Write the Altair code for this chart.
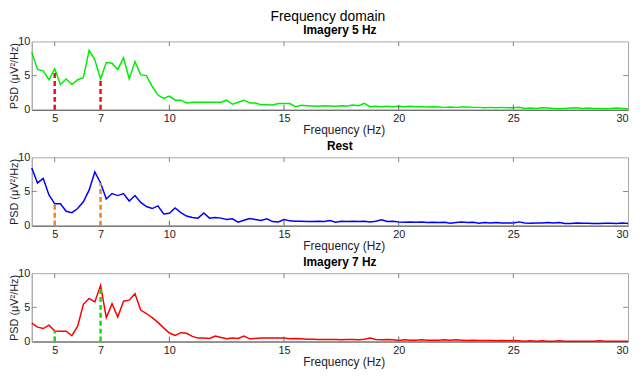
import altair as alt
import pandas as pd

# frequency grid (Hz), 0.25 Hz steps from 4 to 30
freqs = [4 + 0.25 * i for i in range(105)]

imagery5 = [
    8.4, 5.9, 5.7, 4.4, 6.0, 3.7, 4.5, 3.7, 4.4, 4.7,
    8.7, 7.3, 4.5, 6.9, 6.8, 5.9, 7.6, 4.5, 7.05, 5.1,
    5.0, 3.4, 2.15, 1.65, 2.0, 1.4, 1.4, 1.0, 1.1, 1.1,
    1.1, 1.1, 1.1, 1.1, 1.4, 0.8, 1.1, 1.4, 1.0, 1.0,
    0.75, 0.75, 0.7, 0.9, 0.9, 0.9, 0.45, 0.65, 0.6, 0.55,
    0.5, 0.6, 0.55, 0.5, 0.6, 0.55, 0.7, 0.6, 0.95, 0.45,
    0.5, 0.45, 0.5, 0.45, 0.5, 0.45, 0.5, 0.45, 0.45, 0.4,
    0.45, 0.4, 0.35, 0.4, 0.35, 0.4, 0.4, 0.35, 0.35, 0.3,
    0.35, 0.3, 0.35, 0.3, 0.3, 0.35, 0.2, 0.25, 0.2, 0.3,
    0.25, 0.2, 0.15, 0.2, 0.25, 0.3, 0.2, 0.25, 0.2, 0.2,
    0.15, 0.2, 0.25, 0.2, 0.15,
]

rest = [
    8.45, 6.25, 6.9, 4.5, 3.2, 3.2, 2.1, 1.9, 2.5, 3.5,
    5.2, 7.85, 6.25, 3.9, 4.7, 4.4, 4.7, 3.6, 4.4, 3.4,
    2.8, 2.5, 2.9, 1.7, 1.8, 2.6, 1.9, 1.4, 1.2, 1.1,
    1.85, 1.1, 1.2, 1.1, 0.9, 1.0, 0.5, 0.8, 1.05, 0.9,
    0.75, 1.0, 0.6, 0.55, 0.9, 0.7, 0.65, 0.65, 0.6, 0.6,
    0.65, 0.6, 0.75, 0.5, 0.65, 0.6, 0.65, 0.6, 0.65, 0.55,
    0.65, 0.85, 0.6, 0.65, 0.55, 0.5, 0.55, 0.5, 0.55, 0.45,
    0.5, 0.45, 0.5, 0.35, 0.45, 0.55, 0.45, 0.5, 0.35, 0.45,
    0.4, 0.45, 0.4, 0.4, 0.4, 0.55, 0.4, 0.35, 0.4, 0.4,
    0.45, 0.4, 0.45, 0.3, 0.3, 0.4, 0.35, 0.35, 0.3, 0.3,
    0.35, 0.35, 0.3, 0.4, 0.3,
]

imagery7 = [
    2.7, 2.1, 1.9, 2.4, 1.55, 1.5, 1.5, 0.85, 2.25, 5.45,
    6.3, 5.8, 8.2, 3.5, 5.55, 3.6, 5.9, 6.05, 7.0, 4.6,
    4.1, 3.5, 2.8, 2.0, 1.25, 0.9, 1.3, 1.2, 0.75, 0.5,
    0.5, 0.45, 0.8, 0.6, 0.4, 0.5, 0.45, 0.8, 0.4, 0.45,
    0.5, 0.5, 0.5, 0.5, 0.5, 0.4, 0.45, 0.4, 0.35, 0.35,
    0.3, 0.3, 0.3, 0.3, 0.25, 0.3, 0.3, 0.25, 0.35, 0.5,
    0.3, 0.25, 0.3, 0.25, 0.15, 0.25, 0.2, 0.2, 0.25, 0.2,
    0.2, 0.2, 0.25, 0.2, 0.25, 0.2, 0.15, 0.2, 0.15, 0.15,
    0.15, 0.1, 0.15, 0.1, 0.15, 0.1, 0.05, 0.1, 0.05, 0.1,
    0.05, 0.05, 0.1, 0.05, 0.05, 0.05, 0.05, 0.05, 0.05, 0.1,
    0.05, 0.05, 0.05, 0.05, 0.05,
]

marker_freqs = [5, 7]
imagery5_markers = [5.7, 4.4]
rest_markers = [3.05, 6.25]
imagery7_markers = [1.45, 7.75]

panel_titles = ["Imagery 5 Hz", "Rest", "Imagery 7 Hz"]
x_tick_labels = [5, 7, 10, 15, 20, 25, 30]
x_minor_ticks = [5, 10, 15, 20, 25]
y_tick_labels = [0, 5, 10]

W, H = 602, 69
FONT = "Liberation Sans"


def panel(title, values, markers, line_color, dash_color):
    xs = alt.Scale(domain=[4, 30], nice=False, zero=False)
    ys = alt.Scale(domain=[0, 10], nice=False, zero=False)
    x_axis = alt.Axis(
        values=x_tick_labels, ticks=False, grid=False, title="Frequency (Hz)",
        labelFlush=True, labelPadding=3, domainColor="#555555",
        titleX=W / 2 + 14, titlePadding=1, titleFontSize=12)
    y_axis = alt.Axis(
        values=y_tick_labels, ticks=False, grid=False, title="PSD (μV²/Hz)",
        labelPadding=2, titlePadding=-2, domainColor="#a8a8a8")

    def enc(ch):
        return ch.encode(
            x=alt.X("f:Q", scale=xs, axis=x_axis),
            y=alt.Y("psd:Q", scale=ys, axis=y_axis),
        )

    df = pd.DataFrame({"f": freqs, "psd": values})
    line = enc(alt.Chart(df).mark_line(color=line_color, strokeWidth=1.5))

    mdf = pd.DataFrame({"f": marker_freqs, "psd": markers, "zero": [0, 0]})
    dashes = alt.Chart(mdf).mark_rule(color=dash_color, strokeWidth=2.5, strokeDash=[5, 3]).encode(
        x=alt.X("f:Q", scale=xs, axis=x_axis),
        y=alt.Y("zero:Q", scale=ys, axis=y_axis),
        y2="psd:Q",
    )
    bt = pd.DataFrame({"f": x_minor_ticks, "psd": [0] * len(x_minor_ticks)})
    tt = pd.DataFrame({"f": x_minor_ticks, "psd": [10] * len(x_minor_ticks)})
    rt = pd.DataFrame({"f": [30], "psd": [5]})
    lt = pd.DataFrame({"f": [4], "psd": [5]})
    bottom_ticks = enc(alt.Chart(bt).mark_tick(orient="vertical", size=5, thickness=1, yOffset=-2.5,
                                               color="#666666", opacity=1))
    top_ticks = enc(alt.Chart(tt).mark_tick(orient="vertical", size=5, thickness=1, yOffset=2.5,
                                            color="#888888", opacity=1))
    right_ticks = enc(alt.Chart(rt).mark_tick(orient="horizontal", size=5, thickness=1, xOffset=-2.5,
                                              color="#888888", opacity=1))
    left_ticks = enc(alt.Chart(lt).mark_tick(orient="horizontal", size=5, thickness=1, xOffset=2.5,
                                             color="#888888", opacity=1))
    return alt.layer(line, bottom_ticks, top_ticks, right_ticks, left_ticks, dashes).properties(
        width=W, height=H,
        title=alt.TitleParams(title, fontSize=12, fontWeight="bold", anchor="middle",
                              offset=-2, dx=10, color="#000000", font=FONT),
    )


p1 = panel(panel_titles[0], imagery5, imagery5_markers, "#00ee00", "#ee1111")
p2 = panel(panel_titles[1], rest, rest_markers, "#0000ff", "#f0822a")
p3 = panel(panel_titles[2], imagery7, imagery7_markers, "#ff0000", "#11dd11")

chart = alt.vconcat(p1, p2, p3, spacing=3).properties(
    padding=0,
    title=alt.TitleParams("Frequency domain", fontSize=14, fontWeight="normal",
                          anchor="middle", offset=0, dx=8, color="#000000", font=FONT),
).configure(font=FONT).configure_view(stroke="#a8a8a8").configure_axis(
    labelFont=FONT, titleFont=FONT, labelFontSize=11, titleFontSize=11,
    labelColor="#222222", titleColor="#222222", titleFontWeight="normal",
)

chart.save("out.html", embed_options={"renderer": "svg", "actions": False})
